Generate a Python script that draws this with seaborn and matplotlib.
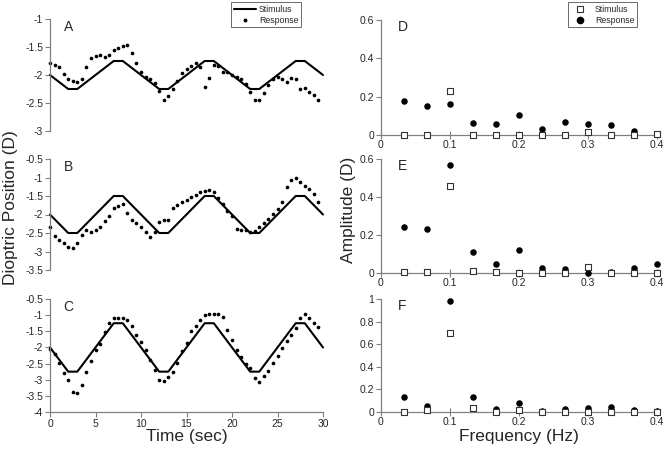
import matplotlib
matplotlib.use("Agg")
import matplotlib.pyplot as plt
from matplotlib.lines import Line2D
import seaborn as sns
import pandas as pd
import numpy as np

sns.set_theme(style="white")
plt.rcParams['font.family'] = ['Liberation Sans', 'DejaVu Sans']
plt.rcParams['axes.unicode_minus'] = False

# --- time-domain data (seconds, diopters) ---
stim_t = [0, 2, 3, 7, 8, 12, 13, 17, 18, 22, 23, 27, 28, 30]
stim_a = [-2, -2.25, -2.25, -1.75, -1.75, -2.25, -2.25, -1.75, -1.75, -2.25, -2.25, -1.75, -1.75, -2.0]
stim_b = [-2, -2.5, -2.5, -1.5, -1.5, -2.5, -2.5, -1.5, -1.5, -2.5, -2.5, -1.5, -1.5, -2.0]
stim_c = [-2, -2.75, -2.75, -1.25, -1.25, -2.75, -2.75, -1.25, -1.25, -2.75, -2.75, -1.25, -1.25, -2.0]

resp_t = np.arange(0, 30, 0.5)
resp_a = [-1.79, -1.82, -1.86, -1.98, -2.08, -2.10, -2.12, -2.08, -1.85, -1.70,
          -1.66, -1.64, -1.68, -1.65, -1.55, -1.52, -1.49, -1.47, -1.60, -1.78,
          -1.95, -2.03, -2.08, -2.15, -2.28, -2.44, -2.38, -2.25, -2.10, -1.96,
          -1.90, -1.84, -1.78, -1.85, -2.22, -2.05, -1.82, -1.84, -1.95, -1.95,
          -2.00, -2.03, -2.08, -2.16, -2.30, -2.45, -2.45, -2.32, -2.18, -2.08,
          -2.03, -2.08, -2.12, -2.06, -2.08, -2.25, -2.24, -2.30, -2.36, -2.45]
resp_b = [-2.35, -2.58, -2.68, -2.78, -2.88, -2.90, -2.76, -2.55, -2.43, -2.46,
          -2.42, -2.35, -2.18, -2.03, -1.82, -1.76, -1.72, -1.95, -2.15, -2.23,
          -2.35, -2.48, -2.62, -2.48, -2.19, -2.16, -2.15, -1.82, -1.74, -1.66,
          -1.60, -1.52, -1.46, -1.40, -1.37, -1.34, -1.40, -1.55, -1.72, -1.90,
          -2.05, -2.38, -2.42, -2.43, -2.48, -2.45, -2.33, -2.24, -2.12, -1.98,
          -1.85, -1.65, -1.26, -1.07, -1.00, -1.13, -1.24, -1.31, -1.45, -1.65]
resp_c = [-2.05, -2.20, -2.48, -2.80, -3.02, -3.38, -3.42, -3.15, -2.75, -2.43,
          -2.07, -1.90, -1.52, -1.24, -1.08, -1.08, -1.10, -1.14, -1.33, -1.60,
          -1.84, -2.08, -2.40, -2.70, -3.01, -3.05, -2.93, -2.75, -2.48, -2.10,
          -1.85, -1.50, -1.34, -1.15, -1.00, -0.97, -0.95, -0.96, -1.05, -1.45,
          -1.76, -2.08, -2.30, -2.52, -2.65, -2.95, -3.06, -2.88, -2.72, -2.48,
          -2.25, -2.02, -1.80, -1.62, -1.40, -1.08, -0.97, -1.10, -1.25, -1.36]

# --- frequency-domain data (Hz, diopters) ---
freq = [0.033, 0.067, 0.1, 0.133, 0.167, 0.2, 0.233, 0.267, 0.3, 0.333, 0.367, 0.4]
amp_stim_d = [0.0, 0.0, 0.23, 0.0, 0.0, 0.0, 0.0, 0.0, 0.016, 0.0, 0.0, 0.004]
amp_resp_d = [0.18, 0.152, 0.162, 0.062, 0.055, 0.102, 0.032, 0.068, 0.055, 0.052, 0.023, 0.007]
amp_stim_e = [0.004, 0.005, 0.46, 0.011, 0.005, 0.002, 0.002, 0.002, 0.03, 0.0, 0.002, 0.002]
amp_resp_e = [0.242, 0.232, 0.568, 0.111, 0.048, 0.119, 0.025, 0.021, 0.002, 0.007, 0.025, 0.046]
amp_stim_f = [0.0, 0.018, 0.70, 0.033, 0.003, 0.015, 0.003, 0.0, 0.0, 0.0, 0.0, 0.0]
amp_resp_f = [0.136, 0.05, 0.98, 0.13, 0.027, 0.08, 0.012, 0.027, 0.036, 0.041, 0.018, 0.012]

W, H = 664, 455
fig = plt.figure(figsize=(W / 100, H / 100), dpi=100)


def box(x0, y0, x1, y1):
    # pixel box -> figure fraction rect
    return [x0 / W, 1 - y1 / H, (x1 - x0) / W, (y1 - y0) / H]


spine_col = '#808080'
tick_fs = 7.5


def style_axis(ax, bottom=False):
    for s in ['top', 'right']:
        ax.spines[s].set_visible(False)
    ax.spines['left'].set_color(spine_col)
    ax.spines['left'].set_linewidth(0.9)
    ax.spines['bottom'].set_visible(bottom)
    ax.spines['bottom'].set_color(spine_col)
    ax.spines['bottom'].set_linewidth(0.9)
    ax.tick_params(axis='y', direction='out', length=3.5, width=0.8, color=spine_col,
                   labelsize=tick_fs, pad=1.5, left=True)
    ax.set_xlabel('')
    ax.set_ylabel('')
    ax.set_facecolor('none')


time_panels = [
    ('A', box(50, 19, 323, 131), stim_a, resp_a, (-3, -1), [-3, -2.5, -2, -1.5, -1]),
    ('B', box(50, 159, 323, 270), stim_b, resp_b, (-3.5, -0.5), [-3.5, -3, -2.5, -2, -1.5, -1, -0.5]),
    ('C', box(50, 299, 323, 412), stim_c, resp_c, (-4, -0.5), [-4, -3.5, -3, -2.5, -2, -1.5, -1, -0.5]),
]

for i, (lab, rect, stim, resp, ylim, yt) in enumerate(time_panels):
    ax = fig.add_axes(rect)
    sns.lineplot(x=stim_t, y=stim, ax=ax, color='black', lw=1.5, sort=False,
                 estimator=None, clip_on=False)
    sns.scatterplot(x=resp_t, y=resp, ax=ax, color='black', s=7, marker='o',
                    linewidth=0, clip_on=False)
    ax.set_xlim(0, 30)
    ax.set_ylim(*ylim)
    ax.set_yticks(yt)
    ax.set_yticklabels([f"{v:g}" for v in yt])
    last = (i == 2)
    style_axis(ax, bottom=last)
    if last:
        ax.set_xticks([0, 5, 10, 15, 20, 25, 30])
        ax.tick_params(axis='x', direction='out', length=3.5, width=0.8, color=spine_col,
                       labelsize=tick_fs, pad=1.5, bottom=True)
    else:
        ax.set_xticks([])
    ax.text(0.05, 0.99, lab, transform=ax.transAxes, fontsize=10, va='top', ha='left')

freq_panels = [
    ('D', box(381, 20, 657, 135), amp_stim_d, amp_resp_d, (0, 0.6), [0, 0.2, 0.4, 0.6]),
    ('E', box(381, 159, 657, 273), amp_stim_e, amp_resp_e, (0, 0.6), [0, 0.2, 0.4, 0.6]),
    ('F', box(381, 299, 657, 412), amp_stim_f, amp_resp_f, (0, 1), [0, 0.2, 0.4, 0.6, 0.8, 1]),
]

for lab, rect, st, rs, ylim, yt in freq_panels:
    ax = fig.add_axes(rect)
    sns.scatterplot(x=freq, y=rs, ax=ax, color='black', s=22, marker='o',
                    linewidth=0, clip_on=False, zorder=3)
    sns.scatterplot(x=freq, y=st, ax=ax, facecolor='white', edgecolor='#333333', s=16,
                    marker='s', linewidth=0.8, clip_on=False, zorder=4)
    ax.set_xlim(0, 0.4)
    ax.set_ylim(*ylim)
    ax.set_yticks(yt)
    ax.set_yticklabels([f"{v:g}" for v in yt])
    ax.set_xticks([0, 0.1, 0.2, 0.3, 0.4])
    ax.set_xticklabels(['0', '0.1', '0.2', '0.3', '0.4'])
    style_axis(ax, bottom=True)
    ax.tick_params(axis='x', direction='inout', length=6, width=0.8, color=spine_col,
                   labelsize=tick_fs, pad=0.5, bottom=True)
    ax.text(0.062, 1.0, lab, transform=ax.transAxes, fontsize=10, va='top', ha='left')

# legends
h_time = [Line2D([0], [0], color='black', lw=1.5, label='Stimulus'),
          Line2D([0], [0], color='black', marker='o', markersize=1.8, lw=0, label='Response')]
leg = fig.legend(handles=h_time, loc='upper left', bbox_to_anchor=(231 / W, 1 - 2 / H),
                 fontsize=6.3, frameon=True, fancybox=False, edgecolor='#444444',
                 handlelength=2.6, borderpad=0.3, labelspacing=0.25, handletextpad=0.3,
                 borderaxespad=0)
leg.get_frame().set_linewidth(0.7)

h_freq = [Line2D([0], [0], color='#333333', marker='s', markerfacecolor='white', markersize=4,
                 lw=0, markeredgewidth=0.8, label='Stimulus'),
          Line2D([0], [0], color='black', marker='o', markersize=4.5, lw=0, label='Response')]
leg2 = fig.legend(handles=h_freq, loc='upper left', bbox_to_anchor=(568 / W, 1 - 2 / H),
                  fontsize=6.3, frameon=True, fancybox=False, edgecolor='#444444',
                  handlelength=2.2, borderpad=0.3, labelspacing=0.25, handletextpad=0.6,
                  borderaxespad=0)
leg2.get_frame().set_linewidth(0.7)

# axis titles
fig.text(11 / W, 1 - 208 / H, 'Dioptric Position (D)', rotation=90, fontsize=12.5,
         ha='center', va='center')
fig.text(348 / W, 1 - 210 / H, 'Amplitude (D)', rotation=90, fontsize=12.5,
         ha='center', va='center')
fig.text(187 / W, 1 - 436 / H, 'Time (sec)', fontsize=12.5, ha='center', va='center')
fig.text(519 / W, 1 - 436 / H, 'Frequency (Hz)', fontsize=12.5, ha='center', va='center')

fig.savefig('out.png', dpi=100, facecolor='white')
